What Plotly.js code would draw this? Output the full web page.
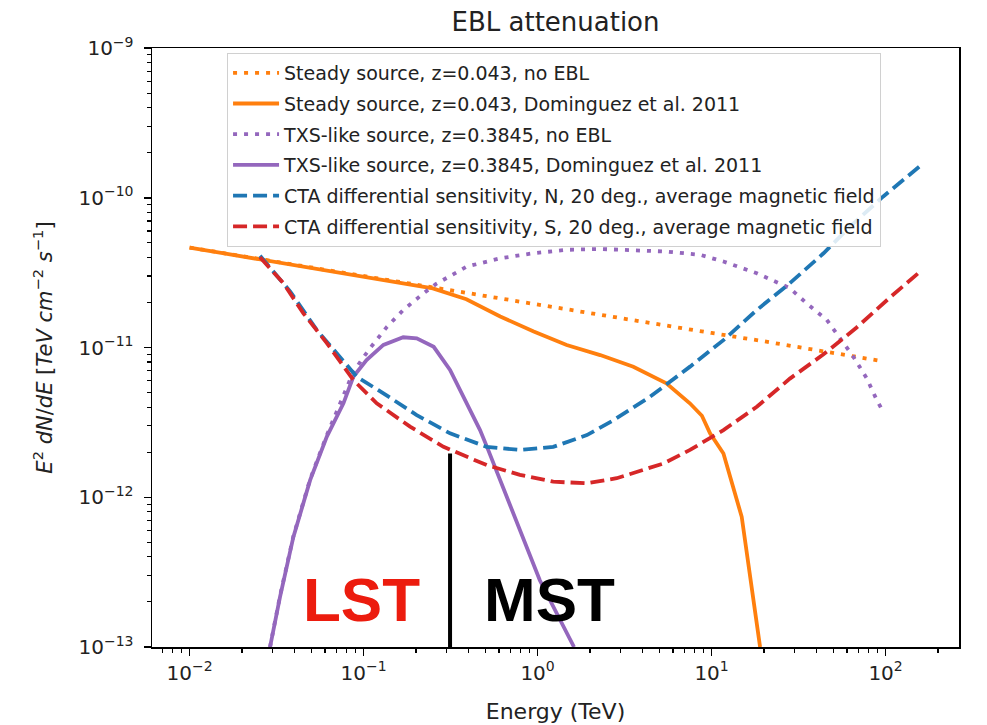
<!DOCTYPE html>
<html>
<head>
<meta charset="utf-8">
<script src="https://cdn.plot.ly/plotly-3.0.1.min.js"></script>
<style>html,body{margin:0;padding:0;background:#fff;}#chart{width:987px;height:725px;}</style>
</head>
<body>
<div id="chart"></div>
<script>
// ---- data ----
const steadyNoEblE = [0.01, 0.02, 0.05, 0.1, 0.2, 0.5, 1, 2, 5, 10, 20, 50, 90];
const steadyNoEblF = [4.65e-11, 4.07e-11, 3.42e-11, 3.0e-11, 2.63e-11, 2.21e-11, 1.94e-11, 1.70e-11, 1.43e-11, 1.25e-11, 1.10e-11, 9.2e-12, 8.2e-12];

const steadyEblE = [0.01, 0.02, 0.05, 0.1, 0.16, 0.25, 0.39, 0.61, 0.95, 1.47, 2.29, 3.55, 5.5, 7.5, 8.8, 9.8, 11.7, 14.9, 19.0];
const steadyEblF = [4.65e-11, 4.07e-11, 3.42e-11, 2.98e-11, 2.72e-11, 2.48e-11, 2.10e-11, 1.61e-11, 1.28e-11, 1.04e-11, 8.9e-12, 7.44e-12, 5.77e-12, 4.24e-12, 3.5e-12, 2.67e-12, 1.96e-12, 7.4e-13, 1.0e-13];

const txsNoEblE = [0.029, 0.0331, 0.0395, 0.0493, 0.0615, 0.0766, 0.0873, 0.100, 0.109, 0.136, 0.169, 0.221, 0.26, 0.392, 0.608, 0.946, 1.47, 2.29, 3.56, 5.53, 8.6, 11.7, 18.2, 28.2, 35.2, 45.9, 54.8, 65.3, 78.0, 89, 97];
const txsNoEblF = [1e-13, 2.2e-13, 5.5e-13, 1.32e-12, 2.6e-12, 4.89e-12, 6.86e-12, 8.63e-12, 9.9e-12, 1.37e-11, 1.78e-11, 2.30e-11, 2.65e-11, 3.47e-11, 3.94e-11, 4.26e-11, 4.49e-11, 4.55e-11, 4.49e-11, 4.37e-11, 4.16e-11, 3.75e-11, 3.13e-11, 2.49e-11, 1.97e-11, 1.53e-11, 1.15e-11, 8.67e-12, 6.22e-12, 4.46e-12, 3.72e-12];

const txsEblE = [0.029, 0.0331, 0.0395, 0.0493, 0.0615, 0.0766, 0.0873, 0.104, 0.130, 0.169, 0.202, 0.253, 0.314, 0.392, 0.467, 0.516, 0.608, 0.792, 1.03, 1.62];
const txsEblF = [1e-13, 2.16e-13, 5.43e-13, 1.30e-12, 2.54e-12, 4.24e-12, 6.38e-12, 8.24e-12, 1.04e-11, 1.17e-11, 1.15e-11, 1.01e-11, 7.08e-12, 4.24e-12, 2.81e-12, 2.12e-12, 1.30e-12, 6.03e-13, 2.79e-13, 1e-13];

const ctaNE = [0.0254, 0.0379, 0.0538, 0.0701, 0.0914, 0.130, 0.202, 0.314, 0.510, 0.792, 1.23, 1.92, 2.73, 4.43, 7.52, 11.7, 18.2, 28.2, 44.0, 62.5, 97, 161];
const ctaNF = [4.1e-11, 2.36e-11, 1.31e-11, 9.14e-12, 6.38e-12, 4.94e-12, 3.54e-12, 2.67e-12, 2.17e-12, 2.07e-12, 2.17e-12, 2.60e-12, 3.27e-12, 4.69e-12, 7.45e-12, 1.12e-11, 1.78e-11, 2.69e-11, 4.26e-11, 6.42e-11, 1.02e-10, 1.66e-10];

const ctaSE = [0.0254, 0.0346, 0.0451, 0.0615, 0.0873, 0.119, 0.185, 0.288, 0.510, 0.792, 1.23, 1.92, 2.85, 5.28, 7.52, 11.7, 18.2, 28.2, 44.0, 68.2, 106, 158];
const ctaSF = [4.0e-11, 2.69e-11, 1.69e-11, 1.07e-11, 6.07e-12, 4.24e-12, 2.96e-12, 2.17e-12, 1.64e-12, 1.41e-12, 1.27e-12, 1.24e-12, 1.34e-12, 1.68e-12, 2.07e-12, 2.81e-12, 4.02e-12, 6.2e-12, 9.0e-12, 1.36e-11, 2.16e-11, 3.21e-11];

const dividerE = [0.314, 0.314];
const dividerF = [1.96e-12, 1e-13];

const seriesNames = [
  'Steady source, z=0.043, no EBL',
  'Steady source, z=0.043, Dominguez et al. 2011',
  'TXS-like source, z=0.3845, no EBL',
  'TXS-like source, z=0.3845, Dominguez et al. 2011',
  'CTA differential sensitivity, N, 20 deg., average magnetic field',
  'CTA differential sensitivity, S, 20 deg., average magnetic field'
];
const xTickVals = [0.01, 0.1, 1, 10, 100];
const xTickText = ['10<sup>−2</sup>', '10<sup>−1</sup>', '10<sup>0</sup>', '10<sup>1</sup>', '10<sup>2</sup>'];
const yTickVals = [1e-13, 1e-12, 1e-11, 1e-10, 1e-9];
const yTickText = ['10<sup>−13</sup>', '10<sup>−12</sup>', '10<sup>−11</sup>', '10<sup>−10</sup>', '10<sup>−9</sup>'];

// ---- styling ----
const ORANGE = '#ff7f0e', PURPLE = '#9467bd', BLUE = '#1f77b4', RED = '#d62728';
const LW = 3.8;
const DOT = '4px,7px';
const DASH = '14px,6px';
const FONT = 'DejaVu Sans, Verdana, sans-serif';

function minorVals(lo, hi) {
  const v = [];
  for (let k = lo; k <= hi; k++) for (let d = 2; d <= 9; d++) v.push(d * Math.pow(10, k));
  return v;
}

function tr(x, y, name, color, dash, i) {
  return {x: x, y: y, name: name, type: 'scatter', mode: 'lines',
    line: {color: color, width: LW, dash: dash},
    legendgroup: 'g' + i, hoverinfo: 'skip'};
}

const traces = [
  tr(steadyNoEblE, steadyNoEblF, seriesNames[0], ORANGE, DOT, 0),
  tr(steadyEblE, steadyEblF, seriesNames[1], ORANGE, 'solid', 1),
  tr(txsNoEblE, txsNoEblF, seriesNames[2], PURPLE, DOT, 2),
  tr(txsEblE, txsEblF, seriesNames[3], PURPLE, 'solid', 3),
  tr(ctaNE, ctaNF, seriesNames[4], BLUE, DASH, 4),
  tr(ctaSE, ctaSF, seriesNames[5], RED, DASH, 5),
  {x: dividerE, y: dividerF, type: 'scatter', mode: 'lines', showlegend: false,
   line: {color: '#000', width: 4}, hoverinfo: 'skip'}
];

const axisCommon = {
  type: 'log', showgrid: false, zeroline: false,
  showline: true, mirror: true, linecolor: '#000', linewidth: 1.5,
  ticks: 'outside', ticklen: 7, tickwidth: 1.5, tickcolor: '#000',
  tickmode: 'array',
  tickfont: {family: FONT, size: 20, color: '#222'}
};

const layout = {
  width: 987, height: 725,
  margin: {l: 152, r: 28, t: 48, b: 78},
  paper_bgcolor: '#fff', plot_bgcolor: '#fff',
  font: {family: FONT, color: '#222'},
  title: {text: 'EBL attenuation', font: {family: FONT, size: 26, color: '#222'},
          xref: 'paper', x: 0.5, xanchor: 'center', yref: 'container', y: 0.97, yanchor: 'middle'},
  xaxis: Object.assign({}, axisCommon, {
    range: [-2.216, 2.422],
    tickvals: xTickVals, ticktext: xTickText,
    minor: {ticks: 'outside', ticklen: 4, tickwidth: 1.1, tickcolor: '#000', tickvals: minorVals(-3, 2), showgrid: false},
    title: {text: 'Energy (TeV)', font: {family: FONT, size: 22, color: '#222'}, standoff: 20}
  }),
  yaxis: Object.assign({}, axisCommon, {
    range: [-13, -9],
    tickvals: yTickVals, ticktext: yTickText,
    ticklabelstandoff: 6,
    minor: {ticks: 'outside', ticklen: 4, tickwidth: 1.1, tickcolor: '#000', tickvals: minorVals(-14, -10), showgrid: false},
    title: {text: '<i>E</i><sup>2</sup> <i>dN</i>/<i>dE</i> [<i>TeV</i> <i>cm</i><sup>−2</sup> <i>s</i><sup>−1</sup>]',
            font: {family: FONT, size: 21, color: '#222'}, standoff: 20}
  }),
  showlegend: true,
  legend: {x: 0.093, y: 0.9917, xanchor: 'left', yanchor: 'top',
    bgcolor: 'rgba(255,255,255,0.85)', bordercolor: '#d0d0d0', borderwidth: 1,
    font: {family: FONT, size: 19, color: '#222'},
    traceorder: 'grouped', tracegroupgap: 3, itemwidth: 46},
  annotations: [
    {xref: 'paper', yref: 'paper', x: 0.2596, y: 0.0785, xanchor: 'center', yanchor: 'middle',
     text: '<b>LST</b>', showarrow: false, font: {family: 'Liberation Sans, Arial, sans-serif', size: 62, color: '#ec1c0e'}},
    {xref: 'paper', yref: 'paper', x: 0.4925, y: 0.0785, xanchor: 'center', yanchor: 'middle',
     text: '<b>MST</b>', showarrow: false, font: {family: 'Liberation Sans, Arial, sans-serif', size: 62, color: '#000'}}
  ]
};

Plotly.newPlot('chart', traces, layout, {staticPlot: true, displayModeBar: false});
</script>
</body>
</html>
